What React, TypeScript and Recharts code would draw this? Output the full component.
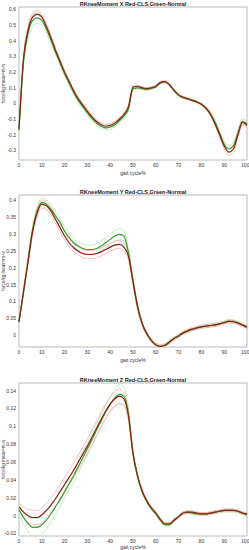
import React from "react";
import { LineChart, Line, XAxis, YAxis, ReferenceArea } from "recharts";

// gait cycle positions (%)
const gait = [
  0, 2, 4, 6, 8, 10, 12, 14, 16, 18,
  20, 22, 24, 26, 28, 30, 32, 34, 36, 38,
  40, 42, 44, 46, 48, 50, 52, 54, 56, 58,
  60, 62, 64, 66, 68, 70, 72, 74, 76, 78,
  80, 82, 84, 86, 88, 90, 92, 94, 96, 98,
  100,
];

// ---- X moment ----
const redX = [
  -0.16, 0.29, 0.47, 0.55, 0.57, 0.55, 0.49, 0.42, 0.34, 0.27,
  0.2, 0.14, 0.08, 0.03, -0.01, -0.05, -0.085, -0.115, -0.135, -0.145,
  -0.14, -0.125, -0.1, -0.07, -0.02, 0.105, 0.11, 0.1, 0.095, 0.1,
  0.11, 0.135, 0.14, 0.12, 0.085, 0.055, 0.04, 0.03, 0.02, 0.01,
  -0.005, -0.03, -0.07, -0.13, -0.2, -0.27, -0.31, -0.29, -0.2, -0.12,
  -0.14,
];
const greenX = [
  -0.17, 0.27, 0.45, 0.53, 0.545, 0.53, 0.475, 0.405, 0.33, 0.26,
  0.19, 0.13, 0.07, 0.02, -0.02, -0.06, -0.095, -0.125, -0.145, -0.155,
  -0.15, -0.135, -0.11, -0.08, -0.035, 0.095, 0.1, 0.095, 0.09, 0.097,
  0.105, 0.13, 0.137, 0.118, 0.083, 0.053, 0.038, 0.03, 0.02, 0.01,
  -0.005, -0.03, -0.065, -0.12, -0.19, -0.26, -0.29, -0.27, -0.19, -0.115,
  -0.13,
];
const redSdX = [
  0.012, 0.015, 0.02, 0.022, 0.022, 0.02, 0.018, 0.016, 0.015, 0.014,
  0.013, 0.012, 0.012, 0.012, 0.012, 0.012, 0.012, 0.012, 0.012, 0.012,
  0.012, 0.012, 0.011, 0.01, 0.01, 0.008, 0.008, 0.006, 0.006, 0.006,
  0.006, 0.006, 0.006, 0.006, 0.006, 0.006, 0.006, 0.006, 0.006, 0.006,
  0.006, 0.008, 0.01, 0.012, 0.015, 0.018, 0.02, 0.02, 0.018, 0.015,
  0.015,
];
const greenSdX = [
  0.015, 0.025, 0.03, 0.035, 0.035, 0.033, 0.028, 0.022, 0.018, 0.016,
  0.015, 0.014, 0.014, 0.014, 0.014, 0.014, 0.014, 0.014, 0.014, 0.014,
  0.014, 0.013, 0.012, 0.012, 0.012, 0.01, 0.008, 0.007, 0.007, 0.007,
  0.007, 0.007, 0.007, 0.007, 0.007, 0.007, 0.007, 0.007, 0.007, 0.007,
  0.008, 0.01, 0.012, 0.015, 0.018, 0.02, 0.022, 0.022, 0.02, 0.018,
  0.02,
];

// ---- Y moment ----
const redY = [
  0.04, 0.13, 0.22, 0.31, 0.365, 0.39, 0.385, 0.37, 0.345, 0.32,
  0.295, 0.275, 0.26, 0.25, 0.243, 0.24, 0.24, 0.243, 0.248, 0.255,
  0.262, 0.268, 0.27, 0.262, 0.235, 0.16, 0.085, 0.035, 0.005, -0.015,
  -0.028, -0.033, -0.03, -0.02, -0.01, -0.002, 0.007, 0.013, 0.018, 0.022,
  0.025, 0.027, 0.029, 0.031, 0.034, 0.037, 0.041, 0.04, 0.036, 0.03,
  0.024,
];
const greenY = [
  0.04, 0.13, 0.225, 0.315, 0.37, 0.395, 0.39, 0.375, 0.355, 0.335,
  0.31, 0.29, 0.275, 0.265, 0.258, 0.255, 0.255, 0.258, 0.265, 0.275,
  0.285, 0.295, 0.3, 0.295, 0.245, 0.16, 0.085, 0.035, 0.005, -0.015,
  -0.028, -0.033, -0.03, -0.02, -0.01, -0.002, 0.007, 0.013, 0.018, 0.022,
  0.025, 0.027, 0.029, 0.031, 0.034, 0.038, 0.042, 0.041, 0.037, 0.031,
  0.025,
];
const redSdY = [
  0.004, 0.006, 0.008, 0.01, 0.012, 0.012, 0.012, 0.012, 0.012, 0.012,
  0.012, 0.012, 0.012, 0.012, 0.012, 0.012, 0.012, 0.012, 0.012, 0.012,
  0.012, 0.012, 0.012, 0.012, 0.012, 0.01, 0.008, 0.006, 0.005, 0.004,
  0.004, 0.004, 0.004, 0.004, 0.004, 0.004, 0.004, 0.004, 0.004, 0.004,
  0.004, 0.004, 0.004, 0.004, 0.004, 0.004, 0.004, 0.004, 0.004, 0.004,
  0.004,
];
const greenSdY = [
  0.004, 0.007, 0.01, 0.012, 0.013, 0.013, 0.013, 0.013, 0.013, 0.013,
  0.013, 0.013, 0.013, 0.013, 0.013, 0.013, 0.013, 0.014, 0.015, 0.015,
  0.016, 0.016, 0.016, 0.015, 0.013, 0.01, 0.008, 0.006, 0.005, 0.005,
  0.005, 0.005, 0.005, 0.005, 0.005, 0.005, 0.005, 0.005, 0.005, 0.005,
  0.005, 0.005, 0.005, 0.005, 0.005, 0.005, 0.005, 0.005, 0.005, 0.005,
  0.005,
];

// ---- Z moment ----
const redZ = [
  0.01, 0.004, 0.0, -0.002, -0.002, 0.001, 0.006, 0.012, 0.019, 0.027,
  0.035, 0.043, 0.051, 0.06, 0.069, 0.078, 0.088, 0.098, 0.108, 0.117,
  0.125, 0.131, 0.134, 0.131, 0.112, 0.07, 0.045, 0.028, 0.017, 0.009,
  0.003, -0.004, -0.009, -0.009, -0.005, -0.001, 0.003, 0.004, 0.004, 0.003,
  0.002, 0.002, 0.003, 0.004, 0.005, 0.006, 0.006, 0.006, 0.005, 0.003,
  0.002,
];
const greenZ = [
  0.007, -0.002, -0.009, -0.013, -0.013, -0.01, -0.005, 0.002, 0.01, 0.018,
  0.027, 0.036, 0.045, 0.055, 0.065, 0.075, 0.085, 0.096, 0.106, 0.116,
  0.125, 0.132, 0.136, 0.134, 0.114, 0.07, 0.044, 0.027, 0.016, 0.008,
  0.002, -0.005, -0.01, -0.01, -0.005, -0.001, 0.003, 0.004, 0.003, 0.002,
  0.002, 0.002, 0.003, 0.004, 0.005, 0.006, 0.006, 0.006, 0.005, 0.003,
  0.001,
];
const redSdZ = [
  0.004, 0.006, 0.007, 0.008, 0.008, 0.008, 0.008, 0.008, 0.008, 0.008,
  0.008, 0.008, 0.008, 0.008, 0.008, 0.008, 0.008, 0.008, 0.008, 0.008,
  0.008, 0.008, 0.008, 0.007, 0.005, 0.003, 0.002, 0.0015, 0.0015, 0.0015,
  0.0015, 0.0015, 0.0015, 0.0015, 0.0015, 0.0015, 0.0015, 0.0015, 0.0015, 0.0015,
  0.0015, 0.0015, 0.0015, 0.0015, 0.0015, 0.0015, 0.0015, 0.0015, 0.0015, 0.0015,
  0.0015,
];
const greenSdZ = [
  0.005, 0.007, 0.009, 0.01, 0.01, 0.01, 0.01, 0.009, 0.008, 0.008,
  0.007, 0.007, 0.007, 0.007, 0.007, 0.007, 0.007, 0.007, 0.007, 0.008,
  0.008, 0.01, 0.011, 0.01, 0.007, 0.003, 0.002, 0.0015, 0.0015, 0.0015,
  0.0015, 0.0015, 0.0015, 0.0015, 0.0015, 0.0015, 0.0015, 0.0015, 0.0015, 0.0015,
  0.0015, 0.0015, 0.0015, 0.0015, 0.0015, 0.0015, 0.0015, 0.0015, 0.0015, 0.0015,
  0.0015,
];

const xTicks = [0, 10, 20, 30, 40, 50, 60, 70, 80, 90, 100];
const yTicksX = [-0.3, -0.2, -0.1, 0, 0.1, 0.2, 0.3, 0.4, 0.5, 0.6];
const yTicksY = [0, 0.05, 0.1, 0.15, 0.2, 0.25, 0.3, 0.35, 0.4];
const yTicksZ = [-0.02, 0, 0.02, 0.04, 0.06, 0.08, 0.1, 0.12, 0.14];

const FONT = "'Liberation Sans', Arial, sans-serif";
const RED = "#8e1c14";
const RED_SD = "#f3a3a0";
const GREEN = "#2f9e2a";
const GREEN_SD = "#a6e6a0";

function build(red: number[], green: number[], redSd: number[], greenSd: number[]) {
  return gait.map((g, i) => ({
    g,
    red: red[i],
    redHi: red[i] + redSd[i],
    redLo: red[i] - redSd[i],
    green: green[i],
    greenHi: green[i] + greenSd[i],
    greenLo: green[i] - greenSd[i],
  }));
}

const fmt = (v: number) => `${+v.toFixed(3)}`;

function Panel({ top, height, title, data, domain, ticks, xHeight }: any) {
  const tickStyle = { fontSize: 5, fill: "#333", fontFamily: FONT };
  return (
    <div style={{ position: "absolute", left: 0, top, width: 249, height }}>
      <div
        style={{
          position: "absolute",
          left: 19,
          width: 228,
          top: 1,
          textAlign: "center",
          fontSize: 5.5,
          lineHeight: "6px",
          fontWeight: "bold",
          fontFamily: FONT,
          color: "#222",
        }}
      >
        {title}
      </div>
      <LineChart
        width={249}
        height={height}
        data={data}
        margin={{ top: 7, right: 2, left: 0, bottom: 0 }}
      >
        <XAxis
          dataKey="g"
          type="number"
          domain={[0, 100]}
          ticks={xTicks}
          axisLine={false}
          tickLine={false}
          tickSize={2}
          tickMargin={1}
          height={xHeight}
          tick={tickStyle}
          label={{
            value: "gait cycle%",
            position: "insideBottom",
            offset: 1,
            style: { fontSize: 5, fill: "#333", fontFamily: FONT },
          }}
        />
        <YAxis
          type="number"
          domain={domain}
          ticks={ticks}
          allowDataOverflow
          axisLine={false}
          tickLine={false}
          tickSize={2}
          tickMargin={1}
          width={19}
          tick={tickStyle}
          tickFormatter={fmt}
          label={{
            value: "force/kg meas=m-w",
            angle: -90,
            position: "insideLeft",
            offset: 3,
            style: { fontSize: 4.5, fill: "#333", fontFamily: FONT, textAnchor: "middle" },
          }}
        />
        <ReferenceArea
          x1={0}
          x2={100}
          y1={domain[0]}
          y2={domain[1]}
          fill="none"
          stroke="#8a8a8a"
          strokeWidth={0.6}
        />
        <Line type="monotone" dataKey="greenHi" stroke={GREEN_SD} strokeWidth={0.7} dot={false} isAnimationActive={false} />
        <Line type="monotone" dataKey="greenLo" stroke={GREEN_SD} strokeWidth={0.7} dot={false} isAnimationActive={false} />
        <Line type="monotone" dataKey="redHi" stroke={RED_SD} strokeWidth={0.7} dot={false} isAnimationActive={false} />
        <Line type="monotone" dataKey="redLo" stroke={RED_SD} strokeWidth={0.7} dot={false} isAnimationActive={false} />
        <Line type="monotone" dataKey="green" stroke={GREEN} strokeWidth={1.2} dot={false} isAnimationActive={false} />
        <Line type="monotone" dataKey="red" stroke={RED} strokeWidth={1.2} dot={false} isAnimationActive={false} />
      </LineChart>
    </div>
  );
}

export default function App() {
  return (
    <div style={{ position: "absolute", left: 0, top: 0, width: 249, height: 550, background: "#fff", overflow: "hidden" }}>
      <Panel
        top={0}
        height={176}
        xHeight={16}
        title="RKneeMoment X Red-CLS,Green-Normal"
        data={build(redX, greenX, redSdX, greenSdX)}
        domain={[-0.36, 0.615]}
        ticks={yTicksX}
      />
      <Panel
        top={188}
        height={175}
        xHeight={16}
        title="RKneeMoment Y Red-CLS,Green-Normal"
        data={build(redY, greenY, redSdY, greenSdY)}
        domain={[-0.035, 0.417]}
        ticks={yTicksY}
      />
      <Panel
        top={376}
        height={174}
        xHeight={14}
        title="RKneeMoment Z Red-CLS,Green-Normal"
        data={build(redZ, greenZ, redSdZ, greenSdZ)}
        domain={[-0.0227, 0.1487]}
        ticks={yTicksZ}
      />
    </div>
  );
}
